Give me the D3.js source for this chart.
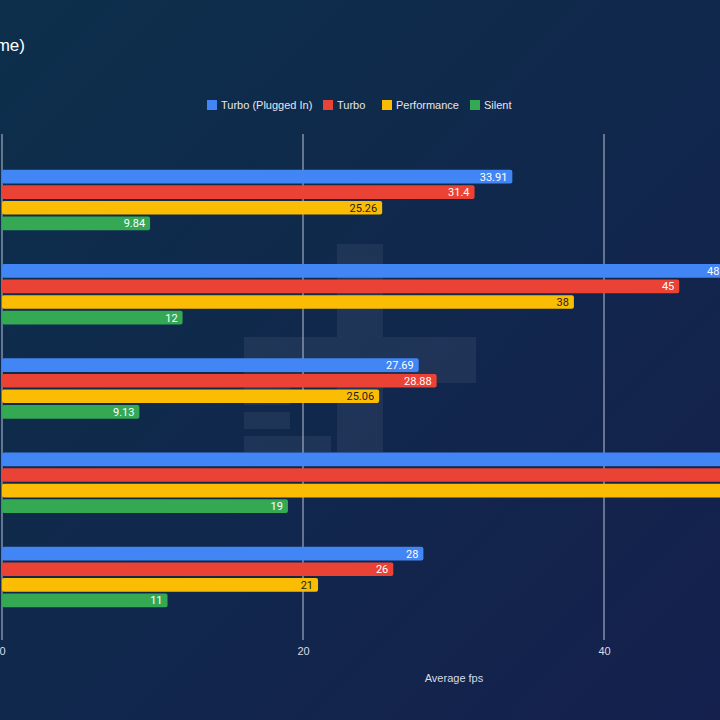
<!DOCTYPE html>
<html lang="en">
<head>
<meta charset="utf-8">
<script src="https://d3js.org/d3.v7.min.js"></script>
<title>Average fps by power mode</title>
<style>
  body { margin: 0; background: #0d2b4b; }
  .axis path { display: none; }
</style>
</head>
<body>
<svg width="720" height="720"></svg>
<script>
// data (category names lie outside the visible crop)
var games = ["Game A", "Game B", "Game C", "Game D", "Game E"];
var modes = ["Turbo (Plugged In)", "Turbo", "Performance", "Silent"];
var turboPlugged = [33.91, 48, 27.69, 58, 28];
var turbo = [31.4, 45, 28.88, 55, 26];
var performance = [25.26, 38, 25.06, 51, 21];
var silent = [9.84, 12, 9.13, 19, 11];
var xTicks = [0, 20, 40];

var colors = ["#4285f4", "#ea4335", "#fbbc04", "#34a853"];
var labelColors = ["#ffffff", "#ffffff", "#222222", "#ffffff"];
var series = [turboPlugged, turbo, performance, silent];

var svg = d3.select("svg");

// background gradient
var defs = svg.append("defs");
var grad = defs.append("linearGradient").attr("id", "bg")
  .attr("x1", "0%").attr("y1", "0%").attr("x2", "100%").attr("y2", "100%");
grad.append("stop").attr("offset", "0%").attr("stop-color", "#0c2f4b");
grad.append("stop").attr("offset", "100%").attr("stop-color", "#15204d");
svg.append("rect").attr("width", 720).attr("height", 720).attr("fill", "url(#bg)");

// faint watermark
var wm = svg.append("g").attr("fill", "#ffffff").attr("opacity", 0.06);
wm.append("rect").attr("x", 337).attr("y", 244).attr("width", 46).attr("height", 208);
wm.append("rect").attr("x", 244).attr("y", 337).attr("width", 232).attr("height", 46);
wm.append("rect").attr("x", 244).attr("y", 383).attr("width", 46).attr("height", 22);
wm.append("rect").attr("x", 244).attr("y", 412).attr("width", 46).attr("height", 17);
wm.append("rect").attr("x", 244).attr("y", 436).attr("width", 87).attr("height", 16);

var margin = {left: 2, top: 137, bottom: 80};
var g = svg.append("g").attr("transform", "translate(" + margin.left + ",0)");

var x = d3.scaleLinear().domain([0, 20]).range([0, 301]);

var y = d3.scaleBand().domain(games).range([margin.top, 640])
  .paddingInner(0.36).paddingOuter(0.348);

var yInner = d3.scaleBand().domain(modes).range([0, y.bandwidth()]).paddingInner(0.12);

// grid
g.selectAll(".grid").data(xTicks).enter().append("line")
  .attr("class", "grid")
  .attr("x1", function(d) { return x(d); })
  .attr("x2", function(d) { return x(d); })
  .attr("y1", 134).attr("y2", 640)
  .attr("stroke", "#b9c3d1").attr("stroke-width", 1);

g.append("g")
  .attr("class", "axis")
  .attr("transform", "translate(0,641)")
  .call(d3.axisBottom(x).tickValues(xTicks).tickSize(0).tickPadding(6))
  .selectAll("text")
    .attr("fill", "#d6dce6")
    .style("font", "11px 'Liberation Sans', Arial, sans-serif");

g.append("text")
  .attr("x", 452).attr("y", 682)
  .attr("text-anchor", "middle")
  .attr("fill", "#d6dce6")
  .style("font", "11px 'Liberation Sans', Arial, sans-serif")
  .text("Average fps");

// bars
series.forEach(function(vals, si) {
  var grp = g.append("g");
  grp.selectAll("rect").data(vals).enter().append("rect")
    .attr("x", x(0))
    .attr("y", function(d, i) { return y(games[i]) + yInner(modes[si]); })
    .attr("width", function(d) { return x(d) - x(0); })
    .attr("height", yInner.bandwidth())
    .attr("rx", 2)
    .attr("fill", colors[si]);
  grp.selectAll("text").data(vals).enter().append("text")
    .attr("x", function(d) { return x(d) - 5; })
    .attr("y", function(d, i) { return y(games[i]) + yInner(modes[si]) + yInner.bandwidth() / 2; })
    .attr("dy", "0.36em")
    .attr("text-anchor", "end")
    .attr("fill", labelColors[si])
    .style("font", "11px Roboto, sans-serif")
    .text(function(d) { return d; });
});

// legend
var legendX = [207, 323, 382, 470];
var legend = svg.selectAll(".legend").data(modes).enter().append("g")
  .attr("class", "legend")
  .attr("transform", function(d, i) { return "translate(" + legendX[i] + ",100)"; });
legend.append("rect").attr("width", 10).attr("height", 10)
  .attr("fill", function(d, i) { return colors[i]; });
legend.append("text")
  .attr("x", 14).attr("y", 5).attr("dy", "0.35em")
  .attr("fill", "#e3e7ee")
  .style("font", "11px 'Liberation Sans', Arial, sans-serif")
  .text(function(d) { return d; });

// title, running off the left edge
svg.append("text")
  .attr("x", 25).attr("y", 51)
  .attr("text-anchor", "end")
  .attr("fill", "#ffffff")
  .style("font", "17px 'Liberation Sans', Arial, sans-serif")
  .text("Gaming Performance (Average fps per Game)");
</script>
</body>
</html>
